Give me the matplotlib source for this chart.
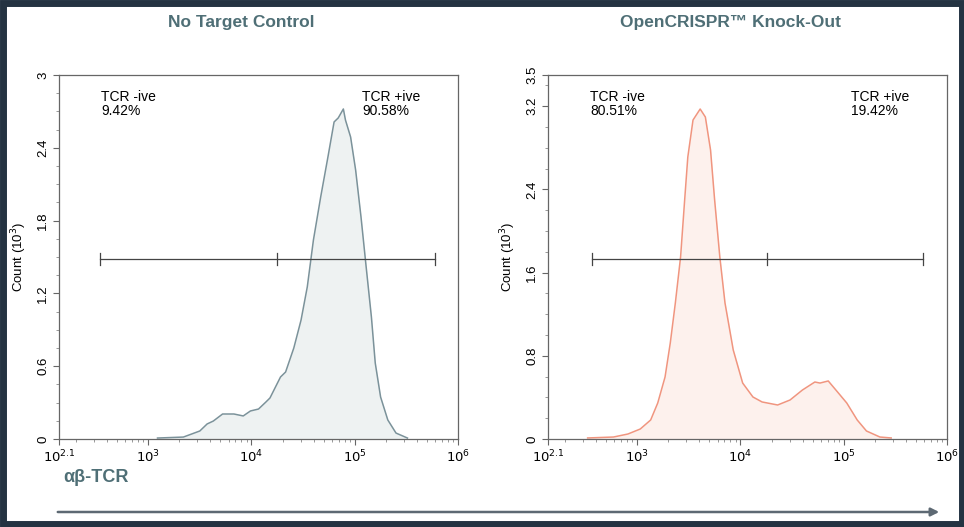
import matplotlib
matplotlib.use("Agg")
import matplotlib.pyplot as plt
from matplotlib.patches import Rectangle, FancyArrowPatch
from matplotlib.ticker import FixedLocator, LogLocator, NullFormatter

plt.rcParams['font.family'] = ['Liberation Sans', 'DejaVu Sans']

# no target control histogram (intensity, count in thousands)
ntc_x = [1230, 2190, 3160, 3720, 4270, 5250, 6760, 8320, 9770, 11700, 13800, 15100,
         19100, 21400, 25700, 30200, 34700, 39800, 46800, 55000, 63100, 69200, 77600,
         81300, 91200, 102000, 115000, 129000, 145000, 158000, 178000, 209000, 251000, 324000]
ntc_y = [0.008, 0.016, 0.066, 0.124, 0.148, 0.206, 0.206, 0.190, 0.231, 0.247, 0.305, 0.338,
         0.511, 0.552, 0.750, 0.980, 1.253, 1.640, 1.995, 2.324, 2.613, 2.646, 2.720,
         2.629, 2.489, 2.217, 1.830, 1.418, 1.006, 0.626, 0.346, 0.157, 0.049, 0.008]

# knock-out histogram
ko_x = [331, 589, 813, 1070, 1350, 1580, 1860, 2090, 2340, 2630, 2880, 3090, 3470, 4070,
        4570, 5130, 5620, 6310, 7080, 8510, 10500, 13200, 16200, 22900, 30200, 39800,
        52500, 58900, 70800, 87100, 107000, 135000, 166000, 224000, 288000]
ko_y = [0.010, 0.019, 0.048, 0.096, 0.183, 0.346, 0.596, 0.923, 1.308, 1.750, 2.298, 2.711,
        3.067, 3.173, 3.096, 2.779, 2.298, 1.750, 1.308, 0.856, 0.538, 0.404, 0.356, 0.327,
        0.375, 0.471, 0.548, 0.538, 0.558, 0.452, 0.346, 0.183, 0.077, 0.019, 0.010]

panels = [
    dict(title="No Target Control", x=ntc_x, y=ntc_y, ymax=3.0,
         yticks=[0, 0.6, 1.2, 1.8, 2.4, 3.0], ylabels=["0", "0.6", "1.2", "1.8", "2.4", "3"],
         yminor=0.15, gate=(340, 17800, 600000), gate_y=1.48,
         neg="9.42%", pos="90.58%", line="#7b929a", fill="#eef2f2"),
    dict(title="OpenCRISPR\u2122 Knock-Out", x=ko_x, y=ko_y, ymax=3.5,
         yticks=[0, 0.8, 1.6, 2.4, 3.2, 3.5], ylabels=["0", "0.8", "1.6", "2.4", "3.2", "3.5"],
         yminor=0.2, gate=(363, 18200, 589000), gate_y=1.73,
         neg="80.51%", pos="19.42%", line="#f0957f", fill="#fdf1ed"),
]

title_color = "#4f6f76"
xmin = 10 ** 2.136

fig = plt.figure(figsize=(9.64, 5.27), dpi=100)

lefts = [59 / 964, 548 / 964]
for left, p in zip(lefts, panels):
    ax = fig.add_axes([left, 88 / 527, 399 / 964, 364 / 527])
    ax.set_xscale('log')
    ax.fill_between(p['x'], p['y'], 0, color=p['fill'], lw=0)
    ax.plot(p['x'], p['y'], color=p['line'], lw=1.1)
    ax.set_xlim(xmin, 1e6)
    ax.set_ylim(0, p['ymax'])

    ax.xaxis.set_major_locator(FixedLocator([xmin, 1e3, 1e4, 1e5, 1e6]))
    ax.set_xticklabels(["$10^{2.1}$", "$10^3$", "$10^4$", "$10^5$", "$10^6$"])
    ax.xaxis.set_minor_locator(LogLocator(base=10, subs=range(2, 10)))
    ax.xaxis.set_minor_formatter(NullFormatter())
    ax.set_yticks(p['yticks'])
    ax.set_yticklabels(p['ylabels'], rotation=90, va='center')
    ax.set_yticks([i * p['yminor'] for i in range(int(p['ymax'] / p['yminor']) + 1)], minor=True)
    ax.tick_params(axis='x', which='major', labelsize=9.5, length=4, width=0.8,
                   color="#666666", pad=3)
    ax.tick_params(axis='y', which='major', labelsize=9.5, length=4, width=0.8,
                   color="#666666", pad=3)
    ax.tick_params(axis='both', which='minor', length=2, width=0.6, color="#888888")
    for s in ax.spines.values():
        s.set_color("#666666")
        s.set_linewidth(0.9)

    ax.set_ylabel("Count (10$^3$)", fontsize=9.5, labelpad=6)

    # gate
    g0, gm, g1 = p['gate']
    gy = p['gate_y']
    dy = 0.05 * p['ymax'] / 3
    ax.plot([g0, g1], [gy, gy], color="#444444", lw=0.9)
    for gx in (g0, gm, g1):
        ax.plot([gx, gx], [gy - dy, gy + dy], color="#444444", lw=0.9)

    ax.text(0.105, 0.96, "TCR -ive\n" + p['neg'], transform=ax.transAxes, fontsize=10,
            va='top', ha='left', linespacing=1.0)
    ax.text(0.76, 0.96, "TCR +ive\n" + p['pos'], transform=ax.transAxes, fontsize=10,
            va='top', ha='left', linespacing=1.0)

    fig.text(left + (200 - 18) / 964, 1 - 22 / 527, p['title'], ha='center', va='center',
             fontsize=12.5, fontweight='bold', color=title_color)

fig.text(63 / 964, 1 - 477 / 527, "\u03b1\u03b2-TCR", ha='left', va='center',
         fontsize=13, fontweight='bold', color=title_color)

arrow = FancyArrowPatch((55 / 964, 1 - 512 / 527), (942 / 964, 1 - 512 / 527),
                        transform=fig.transFigure, arrowstyle='-|>', mutation_scale=12,
                        color="#5d6973", lw=1.8)
fig.patches.append(arrow)

fig.patches.append(Rectangle((0.003, 0.006), 0.9945, 0.988, transform=fig.transFigure,
                             fill=False, edgecolor="#243342", lw=5))

fig.savefig("out.png", dpi=100)
